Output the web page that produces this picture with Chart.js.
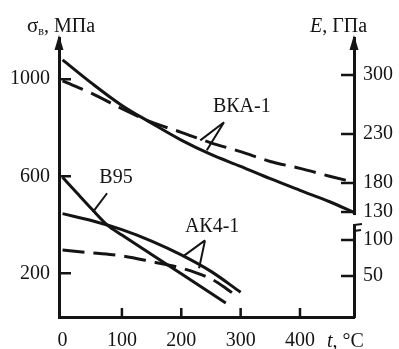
<!DOCTYPE html>
<html>
<head>
<meta charset="utf-8">
<script src="https://cdn.jsdelivr.net/npm/chart.js@4.4.1/dist/chart.umd.min.js"></script>
<style>
  html, body { margin: 0; padding: 0; background: #fff; }
  canvas { display: block; }
</style>
</head>
<body>
<canvas id="chart" width="399" height="349"></canvas>
<script>
// values
const tBka = [0, 50, 100, 150, 200, 250, 300, 350, 400, 450, 490];
const sigmaBka = [1080, 982, 892, 819, 749, 690, 641, 590, 542, 495, 452];
const eBka = [293, 278, 260, 244, 232, 221, 212, 202, 195, 187, 181];

const tB95 = [0, 25, 50, 75, 100, 150, 200, 250, 275];
const sigmaB95 = [596, 529, 463, 400, 358, 278, 198, 118, 78];

const tAk4 = [0, 50, 100, 150, 200, 250, 300];
const sigmaAk4 = [446, 417, 380, 333, 276, 208, 122];
const tAk4E = [0, 50, 100, 150, 200, 250, 275, 295];
const eAk4 = [86, 82, 78, 70, 61, 46, 33, 21];

const tTicks = [0, 100, 200, 300, 400];
const sigmaTicks = [200, 600, 1000];
const eTicks = [50, 100, 130, 180, 230, 300];

// the E axis of the original is broken and not evenly spaced,
// so it is mapped piecewise: [value, fraction of axis height]
const eAxisKnots = [[0, 0.018], [50, 0.147], [100, 0.276], [130, 0.376],
                    [180, 0.480], [230, 0.656], [300, 0.867], [344, 1]];

const ink = '#141414';
const serif = '"Liberation Serif", "DejaVu Serif", serif';

function knotDecimal(v) {
  const k = eAxisKnots;
  let i = 0;
  while (i < k.length - 2 && v > k[i + 1][0]) i++;
  const [v0, f0] = k[i], [v1, f1] = k[i + 1];
  return f0 + (v - v0) * (f1 - f0) / (v1 - v0);
}
function knotValue(f) {
  const k = eAxisKnots;
  let i = 0;
  while (i < k.length - 2 && f > k[i + 1][1]) i++;
  const [v0, f0] = k[i], [v1, f1] = k[i + 1];
  return v0 + (f - f0) * (v1 - v0) / (f1 - f0);
}

class KnotScale extends Chart.LinearScale {
  getPixelForValue(v) {
    if (v === null || v === undefined) return NaN;
    return this.getPixelForDecimal(knotDecimal(v));
  }
  getValueForPixel(p) {
    return knotValue(this.getDecimalForPixel(p));
  }
}
KnotScale.id = 'knot';
KnotScale.defaults = Chart.LinearScale.defaults;
Chart.register(KnotScale);

const pts = (xs, ys) => xs.map((x, i) => ({ x: x, y: ys[i] }));

function line(data, axis, dashed) {
  return {
    data: data,
    yAxisID: axis,
    borderColor: ink,
    borderWidth: 3,
    borderDash: dashed ? [22, 9] : [],
    pointRadius: 0,
    fill: false,
    cubicInterpolationMode: 'monotone'
  };
}

const annotate = {
  id: 'annotate',
  afterDraw(chart) {
    const { ctx, chartArea: a, scales } = chart;
    const x = scales.x, y = scales.y, yE = scales.yE;
    const P = (t, s) => [x.getPixelForValue(t), y.getPixelForValue(s)];
    ctx.save();
    ctx.strokeStyle = ink;
    ctx.fillStyle = ink;
    ctx.lineCap = 'butt';

    // inward tick marks
    ctx.lineWidth = 2.5;
    ctx.beginPath();
    y.ticks.forEach((tk) => {
      const py = y.getPixelForValue(tk.value);
      ctx.moveTo(a.left, py);
      ctx.lineTo(a.left + 12, py);
    });
    yE.ticks.forEach((tk) => {
      const py = yE.getPixelForValue(tk.value);
      ctx.moveTo(a.right, py);
      ctx.lineTo(a.right - 13, py);
    });
    x.ticks.forEach((tk) => {
      if (tk.value === 0) return;
      const px = x.getPixelForValue(tk.value);
      ctx.moveTo(px, a.bottom);
      ctx.lineTo(px, a.bottom - 9);
    });
    ctx.stroke();

    // arrow heads on the vertical axes
    [a.left, a.right].forEach((px) => {
      ctx.beginPath();
      ctx.moveTo(px, a.top - 3);
      ctx.lineTo(px - 4.5, a.top + 12);
      ctx.lineTo(px + 4.5, a.top + 12);
      ctx.closePath();
      ctx.fill();
    });

    // break of the E axis between 100 and 130
    const y100 = yE.getPixelForValue(100), y130 = yE.getPixelForValue(130);
    const yb = (y100 + y130) / 2;
    ctx.fillStyle = '#fff';
    ctx.fillRect(a.right - 3, yb - 11, 6, 9);
    ctx.fillStyle = ink;
    ctx.lineWidth = 2;
    ctx.beginPath();
    ctx.moveTo(a.right, yb - 1);
    ctx.lineTo(a.right + 8, yb - 2);
    ctx.moveTo(a.right, yb + 5);
    ctx.lineTo(a.right + 7, yb + 4);
    ctx.stroke();

    // leader lines for the curve labels
    ctx.lineWidth = 2;
    const leaders = [
      [[272, 823], [232, 748]], [[272, 823], [243, 707]],
      [[75, 530], [51, 452]],
      [[240, 336], [203, 270]], [[240, 336], [230, 221]]
    ];
    ctx.beginPath();
    leaders.forEach(([p0, p1]) => {
      ctx.moveTo(...P(p0[0], p0[1]));
      ctx.lineTo(...P(p1[0], p1[1]));
    });
    ctx.stroke();

    // curve labels
    ctx.font = '20px ' + serif;
    ctx.textAlign = 'center';
    ctx.textBaseline = 'middle';
    [['ВКА-1', 302, 885], ['В95', 90, 592], ['АК4-1', 252, 394]].forEach(([txt, t, s]) => {
      ctx.fillText(txt, ...P(t, s));
    });

    // axis titles
    ctx.textAlign = 'left';
    ctx.textBaseline = 'alphabetic';
    let cx = 27;
    ctx.font = '21px ' + serif;
    ctx.fillText('σ', cx, 32);
    cx += ctx.measureText('σ').width;
    ctx.font = '12px ' + serif;
    ctx.fillText('в', cx, 35);
    cx += ctx.measureText('в').width;
    ctx.font = '20px ' + serif;
    ctx.fillText(', МПа', cx, 32);

    cx = 310;
    ctx.font = 'italic 20px ' + serif;
    ctx.fillText('E', cx, 32);
    cx += ctx.measureText('E').width;
    ctx.font = '20px ' + serif;
    ctx.fillText(', ГПа', cx, 32);

    cx = 327;
    ctx.font = 'italic 20px ' + serif;
    ctx.fillText('t', cx, 347);
    cx += ctx.measureText('t').width;
    ctx.font = '20px ' + serif;
    ctx.fillText(', °C', cx, 347);

    ctx.restore();
  }
};

const tickFont = { family: serif, size: 20 };

new Chart(document.getElementById('chart'), {
  type: 'line',
  data: {
    datasets: [
      line(pts(tBka, sigmaBka), 'y', false),
      line(pts(tBka, eBka), 'yE', true),
      line(pts(tB95, sigmaB95), 'y', false),
      line(pts(tAk4, sigmaAk4), 'y', false),
      line(pts(tAk4E, eAk4), 'yE', true)
    ]
  },
  options: {
    responsive: false,
    animation: false,
    layout: { padding: { top: 38 } },
    plugins: { legend: { display: false }, tooltip: { enabled: false } },
    scales: {
      x: {
        type: 'linear',
        min: -6,
        max: 491,
        afterBuildTicks: (s) => { s.ticks = tTicks.map((v) => ({ value: v })); },
        afterFit: (s) => { s.height = 32; },
        grid: { display: false, drawTicks: false },
        border: { display: true, color: ink, width: 3 },
        ticks: { color: ink, font: tickFont, padding: 12, maxRotation: 0, callback: (v) => String(v) }
      },
      y: {
        type: 'linear',
        position: 'left',
        min: 20,
        max: 1170,
        afterBuildTicks: (s) => { s.ticks = sigmaTicks.map((v) => ({ value: v })); },
        afterFit: (s) => { s.width = 59; },
        grid: { display: false, drawTicks: false },
        border: { display: true, color: ink, width: 3 },
        ticks: { color: ink, font: tickFont, padding: 9, callback: (v) => String(v) }
      },
      yE: {
        type: 'knot',
        position: 'right',
        min: 0,
        max: 344,
        afterBuildTicks: (s) => { s.ticks = eTicks.map((v) => ({ value: v })); },
        afterFit: (s) => { s.width = 45; },
        grid: { display: false, drawTicks: false },
        border: { display: true, color: ink, width: 3 },
        ticks: { color: ink, font: tickFont, padding: 9, callback: (v) => String(v) }
      }
    }
  },
  plugins: [annotate]
});
</script>
</body>
</html>
